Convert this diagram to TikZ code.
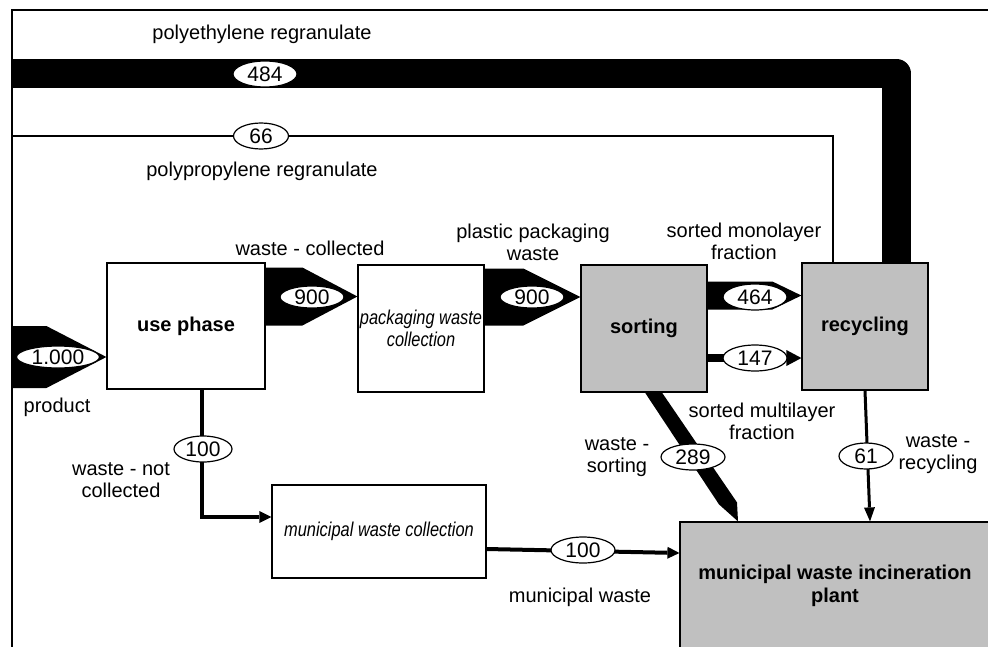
\documentclass[tikz,border=0pt]{standalone}
\usepackage{fontspec}
\setmainfont{Liberation Sans}
\newfontfamily\narrowit[FakeStretch=0.82]{Liberation Sans}
\usetikzlibrary{shapes.geometric,arrows.meta,calc}
\definecolor{boxgray}{RGB}{192,192,192}
% fat flow arrow: #1 start (x only), #2 tip, #3 half width, #4 head length
\def\FA#1#2#3#4{\fill (#2) -- ($(#2)+(-#4,#3)$) -- ($(#1 |- #2)+(0,#3)$) -- ($(#1 |- #2)+(0,-#3)$) -- ($(#2)+(-#4,-#3)$) -- cycle;}

\begin{document}
\begin{tikzpicture}[x=1pt,y=-1pt,
  every node/.style={font=\fontsize{20}{22}\selectfont},
  procbox/.style={draw,line width=1.2pt,inner sep=0pt,minimum width=126pt,minimum height=127pt,align=center},
  graybox/.style={procbox,fill=boxgray,font=\fontsize{20}{23}\selectfont\bfseries},
  itbox/.style={procbox,font=\narrowit\itshape\fontsize{20}{22}\selectfont},
  flowval/.style={ellipse,draw,fill=white,line width=1.2pt,inner sep=0pt,minimum width=64pt,minimum height=26pt,font=\fontsize{21}{22}\selectfont},
  flowline/.style={line width=4pt,-{Triangle[length=12pt,width=12pt,line width=0pt]}}]
\useasboundingbox (0,0) rectangle (988,646);
\clip (0,0) rectangle (988,646);
\draw[line width=2pt] (12,660) |- (1000,10);
\coordinate (pe) at (12,73.5);
\coordinate (pp) at (12,136);
\coordinate (src) at (12,357);

\node[procbox,minimum width=158pt,minimum height=126pt,font=\fontsize{20}{22}\selectfont\bfseries] (use) at (186,326) {use phase};
\node[itbox] (pkg) at (421,328.5) {packaging waste\\collection};
\node[graybox] (sort) at (644,328.5) {sorting};
\node[graybox] (recyc) at (865,326.5) {recycling};
\node[itbox,minimum width=214pt,minimum height=93pt] (mwc) at (379,531.5) {municipal waste collection};
\node[graybox,minimum width=310pt] (inc) at (835,585.5) {municipal waste incineration\\plant};

\coordinate (usein) at ([yshift=-31]use.west);
\coordinate (pkgin) at ([yshift=32]pkg.west);
\coordinate (sortin) at ([yshift=31.5]sort.west);
\coordinate (recin) at ([yshift=31]recyc.west);
\coordinate (sortout) at ([xshift=9.5]sort.south);
\coordinate (incin) at ([xshift=-97]inc.north);

\draw[line width=29pt,line join=round] (pe) -| ([xshift=31.5]recyc.north);
\draw[line width=2pt] (pp) -| ([xshift=-32]recyc.north);
\FA{src}{usein}{31}{60}
\FA{use.east}{pkgin}{29}{55}
\FA{pkg.east}{sortin}{28.5}{57}
\FA{sort.east}{recin}{14}{29}
\draw[line width=8pt,-{Triangle[length=15pt,width=16pt,line width=0pt]}] ([yshift=-29.5]sort.east) -- ([yshift=-31.5]recyc.west);
\fill ($(sortout)+(-8.5,0)$) -- ($(sortout)+(8.5,0)$) -- ($(incin)+(-1,-19)$) -- (incin) -- ($(incin)+(-19,-17)$) -- cycle;
\draw[line width=3pt,-{Triangle[length=14pt,width=11pt,line width=0pt]}] (recyc.south) -- ([xshift=35]inc.north);
\draw[flowline] ([yshift=-17.5]mwc.east) -- ([yshift=32.5]inc.west);
\draw[flowline] ([xshift=16]use.south) |- ([yshift=14.5]mwc.west);

\node[flowval] (v484) at (265,74) {484};
\node[flowval,minimum width=55pt] (v66) at (261,136) {66};
\node[flowval,minimum width=83pt,minimum height=22pt] (v1000) at (58,357) {1.000};
\node[flowval,minimum height=22pt] (v900a) at (312,297) {900};
\node[flowval,minimum height=22pt] (v900b) at (532,297) {900};
\node[flowval] (v464) at (755,297) {464};
\node[flowval] (v147) at (755,358) {147};
\node[flowval] (v289) at (693,457) {289};
\node[flowval,minimum width=54pt] (v61) at (866,456) {61};
\node[flowval,minimum width=58pt] (v100a) at (203,449) {100};
\node[flowval] (v100b) at (583,550) {100};

\node (lpe) at (262,34) {polyethylene regranulate};
\node (lpp) at (262,171) {polypropylene regranulate};
\node (lprod) at (57,407) {product};
\node (lwc) at (310,248) {waste - collected};
\node[align=center] (lppw) at (533,242) {plastic packaging\\waste};
\node[align=center] (lmono) at (744,241) {sorted monolayer\\fraction};
\node[align=center] (lmulti) at (762,421) {sorted multilayer\\fraction};
\node[align=center] (lws) at (617,457) {waste -\\sorting};
\node[align=center] (lwr) at (938,454) {waste -\\recycling};
\node[align=center] (lwnc) at (121,480) {waste - not\\collected};
\node (lmw) at (580,597) {municipal waste};
\end{tikzpicture}
\end{document}
